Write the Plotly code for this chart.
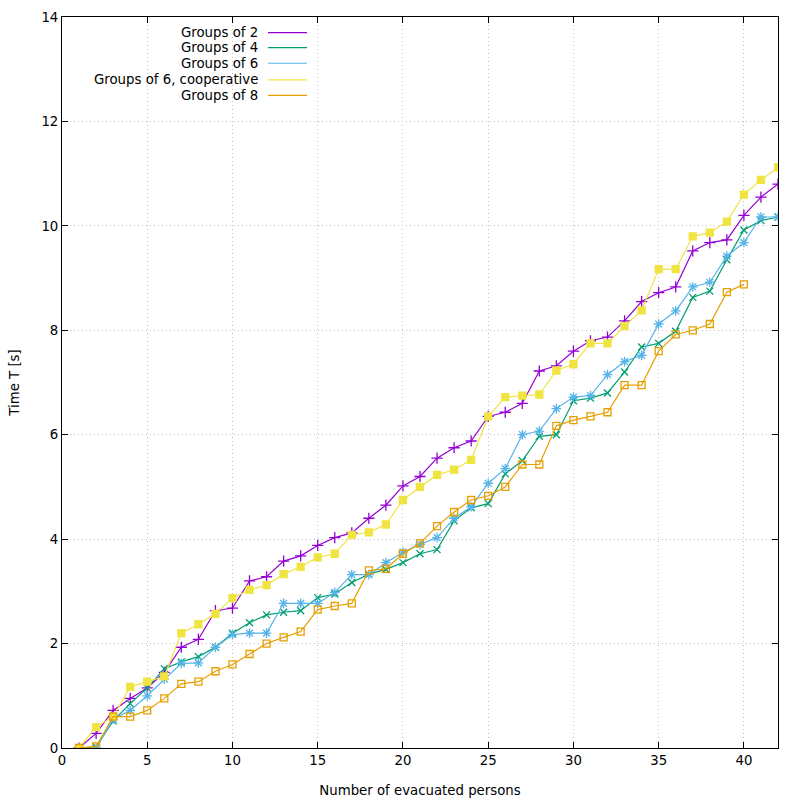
import plotly.graph_objects as go

persons = list(range(1, 43))
persons8 = list(range(1, 41))

groups2 = [0, 0.28, 0.72, 0.95, 1.15, 1.45, 1.93, 2.08, 2.63, 2.68, 3.2, 3.28, 3.58, 3.68,
           3.88, 4.03, 4.12, 4.4, 4.65, 5.02, 5.2, 5.55, 5.75, 5.88, 6.35, 6.43, 6.6, 7.22,
           7.32, 7.6, 7.8, 7.87, 8.18, 8.55, 8.72, 8.83, 9.52, 9.68, 9.73, 10.2, 10.55, 10.8]
groups4 = [0, 0.02, 0.52, 0.85, 1.15, 1.52, 1.65, 1.75, 1.93, 2.2, 2.4, 2.55, 2.6, 2.63,
           2.88, 2.95, 3.17, 3.33, 3.42, 3.55, 3.72, 3.8, 4.35, 4.6, 4.68, 5.25, 5.5, 5.97,
           6.0, 6.65, 6.7, 6.8, 7.2, 7.68, 7.75, 7.98, 8.63, 8.75, 9.35, 9.92, 10.1, 10.17]
groups6 = [0, 0, 0.55, 0.72, 1.0, 1.32, 1.62, 1.63, 1.93, 2.17, 2.2, 2.2, 2.77, 2.77,
           2.77, 2.98, 3.32, 3.32, 3.55, 3.75, 3.9, 4.03, 4.4, 4.62, 5.07, 5.35, 6.0, 6.07,
           6.5, 6.72, 6.75, 7.15, 7.4, 7.52, 8.12, 8.37, 8.83, 8.92, 9.42, 9.68, 10.17, 10.17]
groups6coop = [0, 0.4, 0.6, 1.17, 1.27, 1.37, 2.2, 2.37, 2.57, 2.87, 3.03, 3.12, 3.33, 3.47,
               3.65, 3.72, 4.08, 4.13, 4.28, 4.75, 5.0, 5.23, 5.33, 5.52, 6.35, 6.72, 6.75, 6.77,
               7.23, 7.35, 7.75, 7.75, 8.08, 8.38, 9.17, 9.17, 9.8, 9.87, 10.08, 10.6, 10.88, 11.12]
groups8 = [0, 0.03, 0.6, 0.6, 0.72, 0.95, 1.23, 1.27, 1.47, 1.6, 1.8, 2.0, 2.12, 2.23,
           2.65, 2.72, 2.77, 3.4, 3.43, 3.72, 3.92, 4.25, 4.52, 4.75, 4.83, 5.0, 5.43, 5.43,
           6.17, 6.28, 6.35, 6.43, 6.95, 6.95, 7.6, 7.92, 8.0, 8.12, 8.73, 8.88]

series = [
    ("Groups of 2", persons, groups2, "#9400d3", "cross-thin-open", 8),
    ("Groups of 4", persons, groups4, "#009e73", "x-thin-open", 7),
    ("Groups of 6", persons, groups6, "#56b4e9", "asterisk-open", 8),
    ("Groups of 6, cooperative", persons, groups6coop, "#f0e442", "square", 7),
    ("Groups of 8", persons8, groups8, "#e69f00", "square-open", 7),
]

FONT = dict(family="DejaVu Sans", size=13.3, color="black")

fig = go.Figure()
for name, xs, ys, color, sym, size in series:
    fig.add_trace(go.Scatter(
        x=xs, y=ys, mode="lines+markers", name=name, showlegend=False,
        line=dict(color=color, width=1.2),
        marker=dict(symbol=sym, size=size, color=color, line=dict(color=color, width=1.3)),
    ))

# manual gnuplot-style legend (text left of line sample)
leg_y = [0.9785, 0.958, 0.9367, 0.914, 0.8927]
for (name, xs, ys, color, sym, size), yy in zip(series, leg_y):
    fig.add_annotation(x=0.2765, y=yy, xref="paper", yref="paper", text=name,
                       showarrow=False, xanchor="right", yanchor="middle", font=FONT)
    fig.add_shape(type="line", xref="paper", yref="paper", x0=0.2877, x1=0.3422,
                  y0=yy, y1=yy, line=dict(color=color, width=1.2))

axis_common = dict(
    showline=True, linecolor="black", linewidth=1, mirror="ticks",
    ticks="inside", ticklen=6, tickcolor="black",
    showgrid=True, gridcolor="#c0c0c0", griddash="1px,3px", gridwidth=1,
    zeroline=False, tickfont=FONT, automargin=False,
)
fig.update_xaxes(range=[0, 42], tickvals=[0, 5, 10, 15, 20, 25, 30, 35, 40],
                 title=dict(text="Number of evacuated persons", standoff=18, font=FONT),
                 **axis_common)
fig.update_yaxes(range=[0, 14], tickvals=[0, 2, 4, 6, 8, 10, 12, 14],
                 title=dict(text="Time T [s]", standoff=18, font=FONT),
                 **axis_common)
fig.update_layout(
    width=800, height=800,
    margin=dict(l=62, r=22, t=17, b=52),
    plot_bgcolor="white", paper_bgcolor="white",
    font=FONT,
)
fig.write_html("out.html")
